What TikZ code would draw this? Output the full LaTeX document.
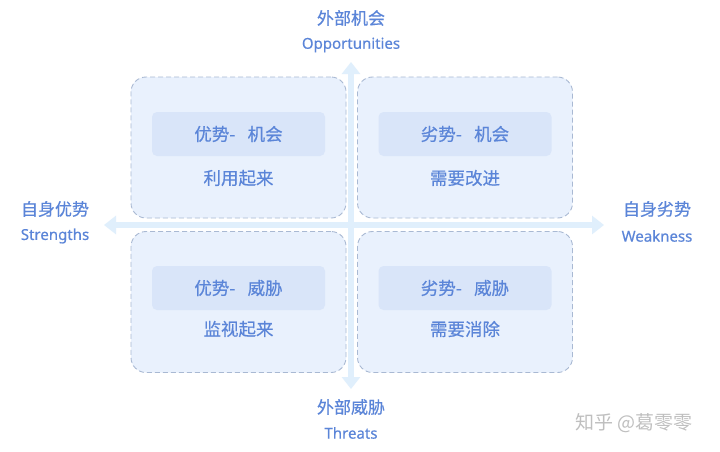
\documentclass[tikz,border=0pt]{standalone}
\usepackage{fontspec}
\setmainfont[FakeBold=0.4]{Noto Sans}
\newfontfamily\cjk[FakeBold=0.5]{Noto Sans CJK SC}
\newfontfamily\cjkthin{Noto Sans CJK SC}
\usetikzlibrary{arrows.meta}
\definecolor{txt}{HTML}{5B85D8}
\definecolor{boxfill}{HTML}{E9F1FD}
\definecolor{boxline}{HTML}{A9B9D3}
\definecolor{inner}{HTML}{D9E5F9}
\definecolor{axis}{HTML}{E0EFFC}
\tikzset{
  quad/.style={draw=boxline, fill=boxfill, dashed, dash pattern=on 5pt off 3pt, line width=0.9pt, rounded corners=15pt, minimum width=215pt, minimum height=141pt, inner sep=0pt},
  tag/.style={fill=inner, rounded corners=5pt, minimum width=173pt, minimum height=44pt, inner sep=0pt, text=txt, font=\cjk\fontsize{17.5}{20}\selectfont},
  note/.style={text=txt, font=\cjk\fontsize{17.5}{20}\selectfont, inner sep=0pt},
  axlbl/.style={text=txt, align=center, font=\fontsize{15}{27}\selectfont, inner sep=0pt},
  cjklbl/.style={text=txt, font=\cjk\fontsize{17}{20}\selectfont, inner sep=0pt},
  axarrow/.style={draw=axis, line width=6pt, -{Triangle[width=18pt,length=12pt]}}
}
\begin{document}
\begin{tikzpicture}[x=1pt,y=-1pt]
\useasboundingbox[fill=white] (0,0) rectangle (720,451);
% axes
\coordinate (c) at (351,225);
\coordinate (top) at (351,62);
\coordinate (bot) at (351,389);
\coordinate (lft) at (104,225);
\coordinate (rgt) at (604,225);
\draw[axarrow] (c) -- (top);
\draw[axarrow] (c) -- (bot);
\draw[axarrow] (c) -- (lft);
\draw[axarrow] (c) -- (rgt);
% quadrants
\node[quad] (q1) at (238.5,147.5) {};
\node[quad] (q2) at (465,147.5) {};
\node[quad] (q3) at (238.5,302) {};
\node[quad] (q4) at (465,302) {};
% tags
\node[tag] (t1) at (238.5,134) {优势-\hspace{0.7em}机会};
\node[tag] (t2) at (465,134) {劣势-\hspace{0.7em}机会};
\node[tag] (t3) at (238.5,288) {优势-\hspace{0.7em}威胁};
\node[tag] (t4) at (465,288) {劣势-\hspace{0.7em}威胁};
\node[note] (n1) at (238.5,178) {利用起来};
\node[note] (n2) at (465,178) {需要改进};
\node[note] (n3) at (238.5,329) {监视起来};
\node[note] (n4) at (465,329) {需要消除};
% axis labels
\node[cjklbl] (lo1) at (351,18) {外部机会};
\node[axlbl] (lo2) at (351,45) {Opportunities};
\node[cjklbl] (lt1) at (351,407) {外部威胁};
\node[axlbl] (lt2) at (351,433) {Threats};
\node[cjklbl] (ls1) at (55,209) {自身优势};
\node[axlbl] (ls2) at (55,236) {Strengths};
\node[cjklbl] (lw1) at (657,209) {自身劣势};
\node[axlbl] (lw2) at (657,236) {Weakness};
% watermark
\node[text=black!25, font=\cjkthin\fontsize{19}{22}\selectfont, inner sep=0pt] (wm) at (634,423) {知乎 @葛零零};
\end{tikzpicture}
\end{document}
